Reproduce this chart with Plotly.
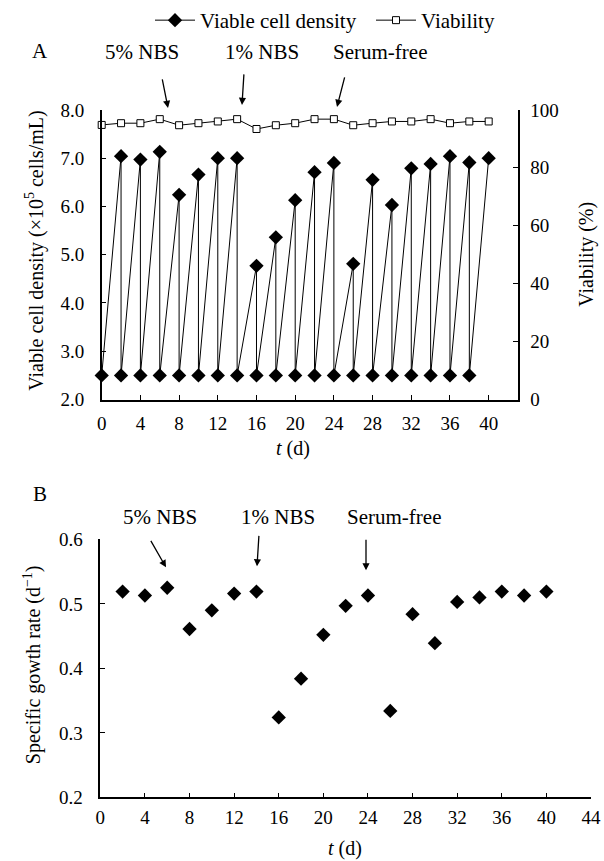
import plotly.graph_objects as go

# ---------------- data ----------------
days = [0, 2, 4, 6, 8, 10, 12, 14, 16, 18, 20, 22, 24, 26, 28, 30, 32, 34, 36, 38, 40]
# viable cell density just before passage (days 2..40), x10^5 cells/mL
vcd_peak = [7.04, 6.97, 7.13, 6.24, 6.66, 7.00, 7.00, 4.77, 5.36, 6.13,
            6.71, 6.90, 4.81, 6.55, 6.03, 6.79, 6.88, 7.04, 6.91, 7.00]
# seeding density after each passage (days 0..38)
vcd_seed = [2.5, 2.5, 2.5, 2.5, 2.5, 2.5, 2.5, 2.5, 2.5, 2.5,
            2.5, 2.5, 2.5, 2.5, 2.5, 2.5, 2.5, 2.5, 2.5, 2.5]
viability = [94.8, 95.4, 95.4, 96.8, 94.7, 95.4, 96.0, 96.8, 93.4, 94.7, 95.4,
             96.8, 96.8, 94.7, 95.4, 96.0, 96.0, 96.8, 95.4, 96.0, 96.0]
growth_rate = [0.519, 0.513, 0.525, 0.461, 0.490, 0.516, 0.519, 0.324, 0.384, 0.452,
               0.497, 0.513, 0.334, 0.484, 0.439, 0.503, 0.510, 0.519, 0.513, 0.519]
events = ["5% NBS", "1% NBS", "Serum-free"]

# sawtooth of passaging: seed at day d, grow to peak at day d+2, reseed
t_vcd, vcd = [], []
for i, s in enumerate(vcd_seed):
    t_vcd += [days[i]]
    vcd += [s]
    t_vcd += [days[i + 1]]
    vcd += [vcd_peak[i]]

W, H = 604, 861
FONT = "Liberation Serif"


def px(x):
    return x / W


def py(y):
    return 1 - y / H


fig = go.Figure()
fig.add_trace(go.Scatter(
    x=t_vcd, y=vcd, mode="lines+markers", name="Viable cell density",
    line=dict(color="black", width=1),
    marker=dict(symbol="diamond", size=11, color="black"),
    cliponaxis=False, xaxis="x", yaxis="y"))
fig.add_trace(go.Scatter(
    x=days, y=viability, mode="lines+markers", name="Viability",
    line=dict(color="black", width=1),
    marker=dict(symbol="square", size=7, color="white",
                line=dict(color="black", width=1)),
    cliponaxis=False, xaxis="x", yaxis="y2"))
fig.add_trace(go.Scatter(
    x=days[1:], y=growth_rate, mode="markers", showlegend=False,
    marker=dict(symbol="diamond", size=11, color="black"),
    cliponaxis=False, xaxis="x2", yaxis="y3"))

axis_common = dict(showline=True, linecolor="black", linewidth=1.5,
                   ticks="inside", ticklen=5, tickcolor="black", tickwidth=1.2,
                   showgrid=False, zeroline=False, automargin=False,
                   tickfont=dict(family=FONT, size=19, color="black"))

fig.update_layout(
    template="none",
    width=W, height=H,
    margin=dict(l=0, r=0, t=0, b=0, pad=0),
    paper_bgcolor="white", plot_bgcolor="white",
    font=dict(family=FONT, size=20, color="black"),
    xaxis=dict(domain=[px(101.7), px(517.7)], range=[0, 43], tick0=0, dtick=4,
               anchor="y", ticklabelstandoff=6, **axis_common),
    yaxis=dict(domain=[py(399), py(109)], range=[2, 8], dtick=1, tickformat=".1f",
               anchor="x", ticklabelstandoff=12, **axis_common),
    yaxis2=dict(domain=[py(399), py(109)], range=[0, 100], dtick=20,
                overlaying="y", side="right", anchor="x", ticklabelstandoff=7,
                **axis_common),
    xaxis2=dict(domain=[px(100.3), px(591)], range=[0, 44], tick0=0, dtick=4,
                anchor="y3", ticklabelstandoff=2, **axis_common),
    yaxis3=dict(domain=[py(797.3), py(539)], range=[0.2, 0.6], dtick=0.1,
                tickformat=".1f", anchor="x2", ticklabelstandoff=12, **axis_common),
    legend=dict(orientation="h", x=px(150), xanchor="left", y=py(20),
                yanchor="middle", font=dict(family=FONT, size=21),
                itemwidth=40, entrywidth=166, bgcolor="rgba(0,0,0,0)"),
    showlegend=True,
)

ann = []


def text(x, y, s, angle=0, size=20):
    ann.append(dict(x=px(x), y=py(y), xref="paper", yref="paper", text=s,
                    showarrow=False, textangle=angle, xanchor="center",
                    yanchor="middle", font=dict(family=FONT, size=size, color="black")))


def arrow(tip, tail):
    ann.append(dict(x=px(tip[0]), y=py(tip[1]), xref="paper", yref="paper",
                    ax=tail[0] - tip[0], ay=tail[1] - tip[1], axref="pixel", ayref="pixel",
                    text="", showarrow=True, arrowhead=2, arrowsize=1.1,
                    arrowwidth=1.3, arrowcolor="black"))


# panel labels
text(40, 50, "A", size=21)
text(40, 494, "B", size=21)
# event labels panel A
for (x, y), s in zip([(142, 51), (262, 51), (380, 51)], events):
    text(x, y, s, size=21)
arrow((168, 107), (162, 77))
arrow((242, 104), (244, 72))
arrow((337, 106), (345, 75))
# event labels panel B
for (x, y), s in zip([(160, 517), (278, 517), (394, 517)], events):
    text(x, y, s, size=21)
arrow((166, 567), (150, 539))
arrow((257, 566), (259, 534))
arrow((366, 570), (366, 538))
# axis titles
text(35, 250, "Viable cell density (×10<sup>5</sup> cells/mL)", -90)
text(587, 254, "Viability (%)", -90)
text(293, 448, "<i>t</i> (d)")
text(32, 665, "Specific gowth rate (d<sup>−1</sup>)", -90)
text(345, 848, "<i>t</i> (d)")

fig.update_layout(annotations=ann)
fig.write_html("out.html", config={"displayModeBar": False},
               post_script="document.body.style.margin='0';document.body.style.overflow='hidden';")
